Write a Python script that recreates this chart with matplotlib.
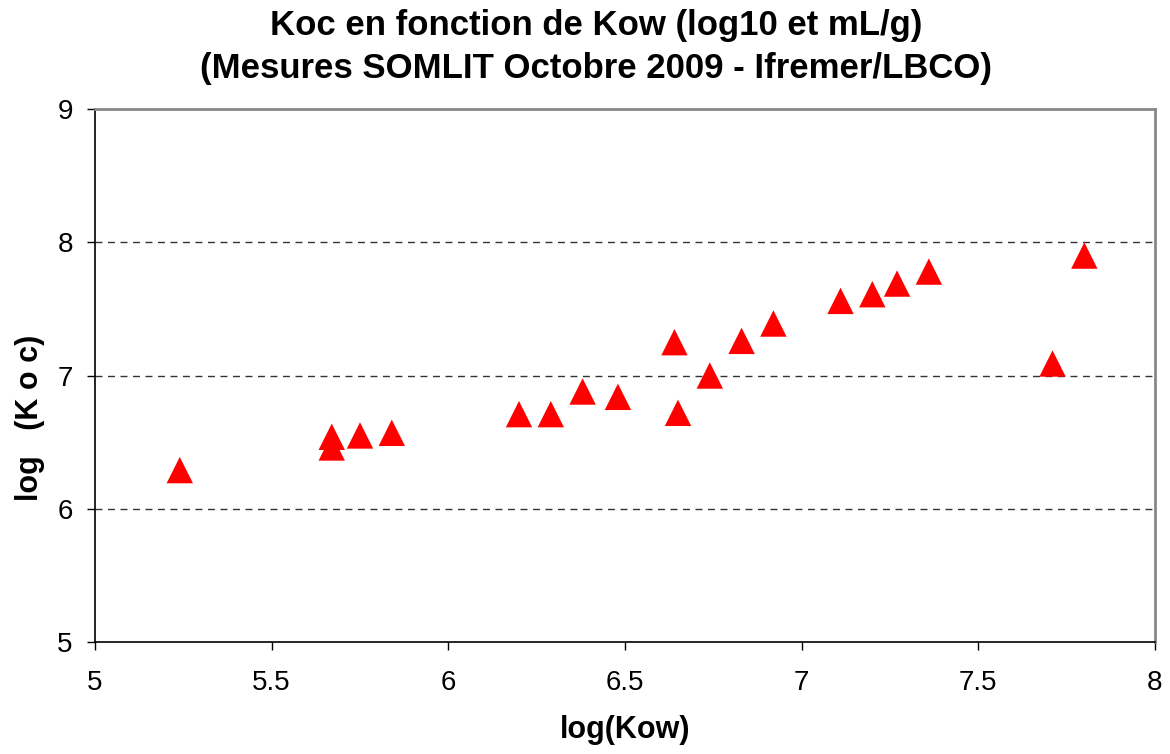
import matplotlib
matplotlib.use("Agg")
import matplotlib.pyplot as plt

log_kow = [5.24, 5.67, 5.67, 5.75, 5.84, 6.20, 6.29, 6.38, 6.48, 6.64, 6.65,
           6.74, 6.83, 6.92, 7.11, 7.20, 7.27, 7.36, 7.71, 7.80]
log_koc = [6.29, 6.46, 6.54, 6.55, 6.57, 6.71, 6.71, 6.88, 6.84, 7.25, 6.72,
           7.00, 7.26, 7.39, 7.56, 7.61, 7.69, 7.78, 7.09, 7.90]
x_ticks = [5, 5.5, 6, 6.5, 7, 7.5, 8]
x_tick_labels = ["5", "5.5", "6", "6.5", "7", "7.5", "8"]
y_ticks = [5, 6, 7, 8, 9]
y_tick_labels = ["5", "6", "7", "8", "9"]

plt.rcParams['font.family'] = ['Liberation Sans', 'DejaVu Sans']

fig = plt.figure(figsize=(11.7, 7.54), dpi=100)
ax = fig.add_axes([95/1170, 1 - 642/754, (1155-95)/1170, (642-109)/754])

ax.scatter(log_kow, log_koc, marker='^', s=19**2, color='#ff0000', edgecolors='none', zorder=3)

ax.set_xlim(5, 8)
ax.set_ylim(5, 9)
ax.set_xticks(x_ticks)
ax.set_xticklabels(x_tick_labels)
ax.set_yticks(y_ticks)
ax.set_yticklabels(y_tick_labels)
ax.tick_params(direction='out', length=6, width=1, labelsize=20, pad=10)
ax.tick_params(axis='x', pad=14)

for y in [6, 7, 8]:
    ax.axhline(y, color='#333333', linestyle=(0, (5, 4)), linewidth=1, zorder=1)

ax.spines['left'].set_color('black')
ax.spines['bottom'].set_color('black')
ax.spines['left'].set_linewidth(1.2)
ax.spines['bottom'].set_linewidth(1.2)
ax.spines['top'].set_color('#888888')
ax.spines['right'].set_color('#888888')
ax.spines['top'].set_linewidth(2)
ax.spines['right'].set_linewidth(2)

ax.set_xlabel("log(Kow)", fontsize=22, fontweight='bold', labelpad=14)
fig.text(30/1170, 1 - 418/754, "log   (K o c)", rotation=90, ha='center', va='center',
         fontsize=22, fontweight='bold')
fig.text(596/1170, 1 - 35/754, "Koc en fonction de Kow (log10 et mL/g)",
         ha='center', va='baseline', fontsize=25, fontweight='bold')
fig.text(596/1170, 1 - 78/754, "(Mesures SOMLIT Octobre 2009 - Ifremer/LBCO)",
         ha='center', va='baseline', fontsize=25, fontweight='bold')

fig.savefig("out.png", dpi=100)
